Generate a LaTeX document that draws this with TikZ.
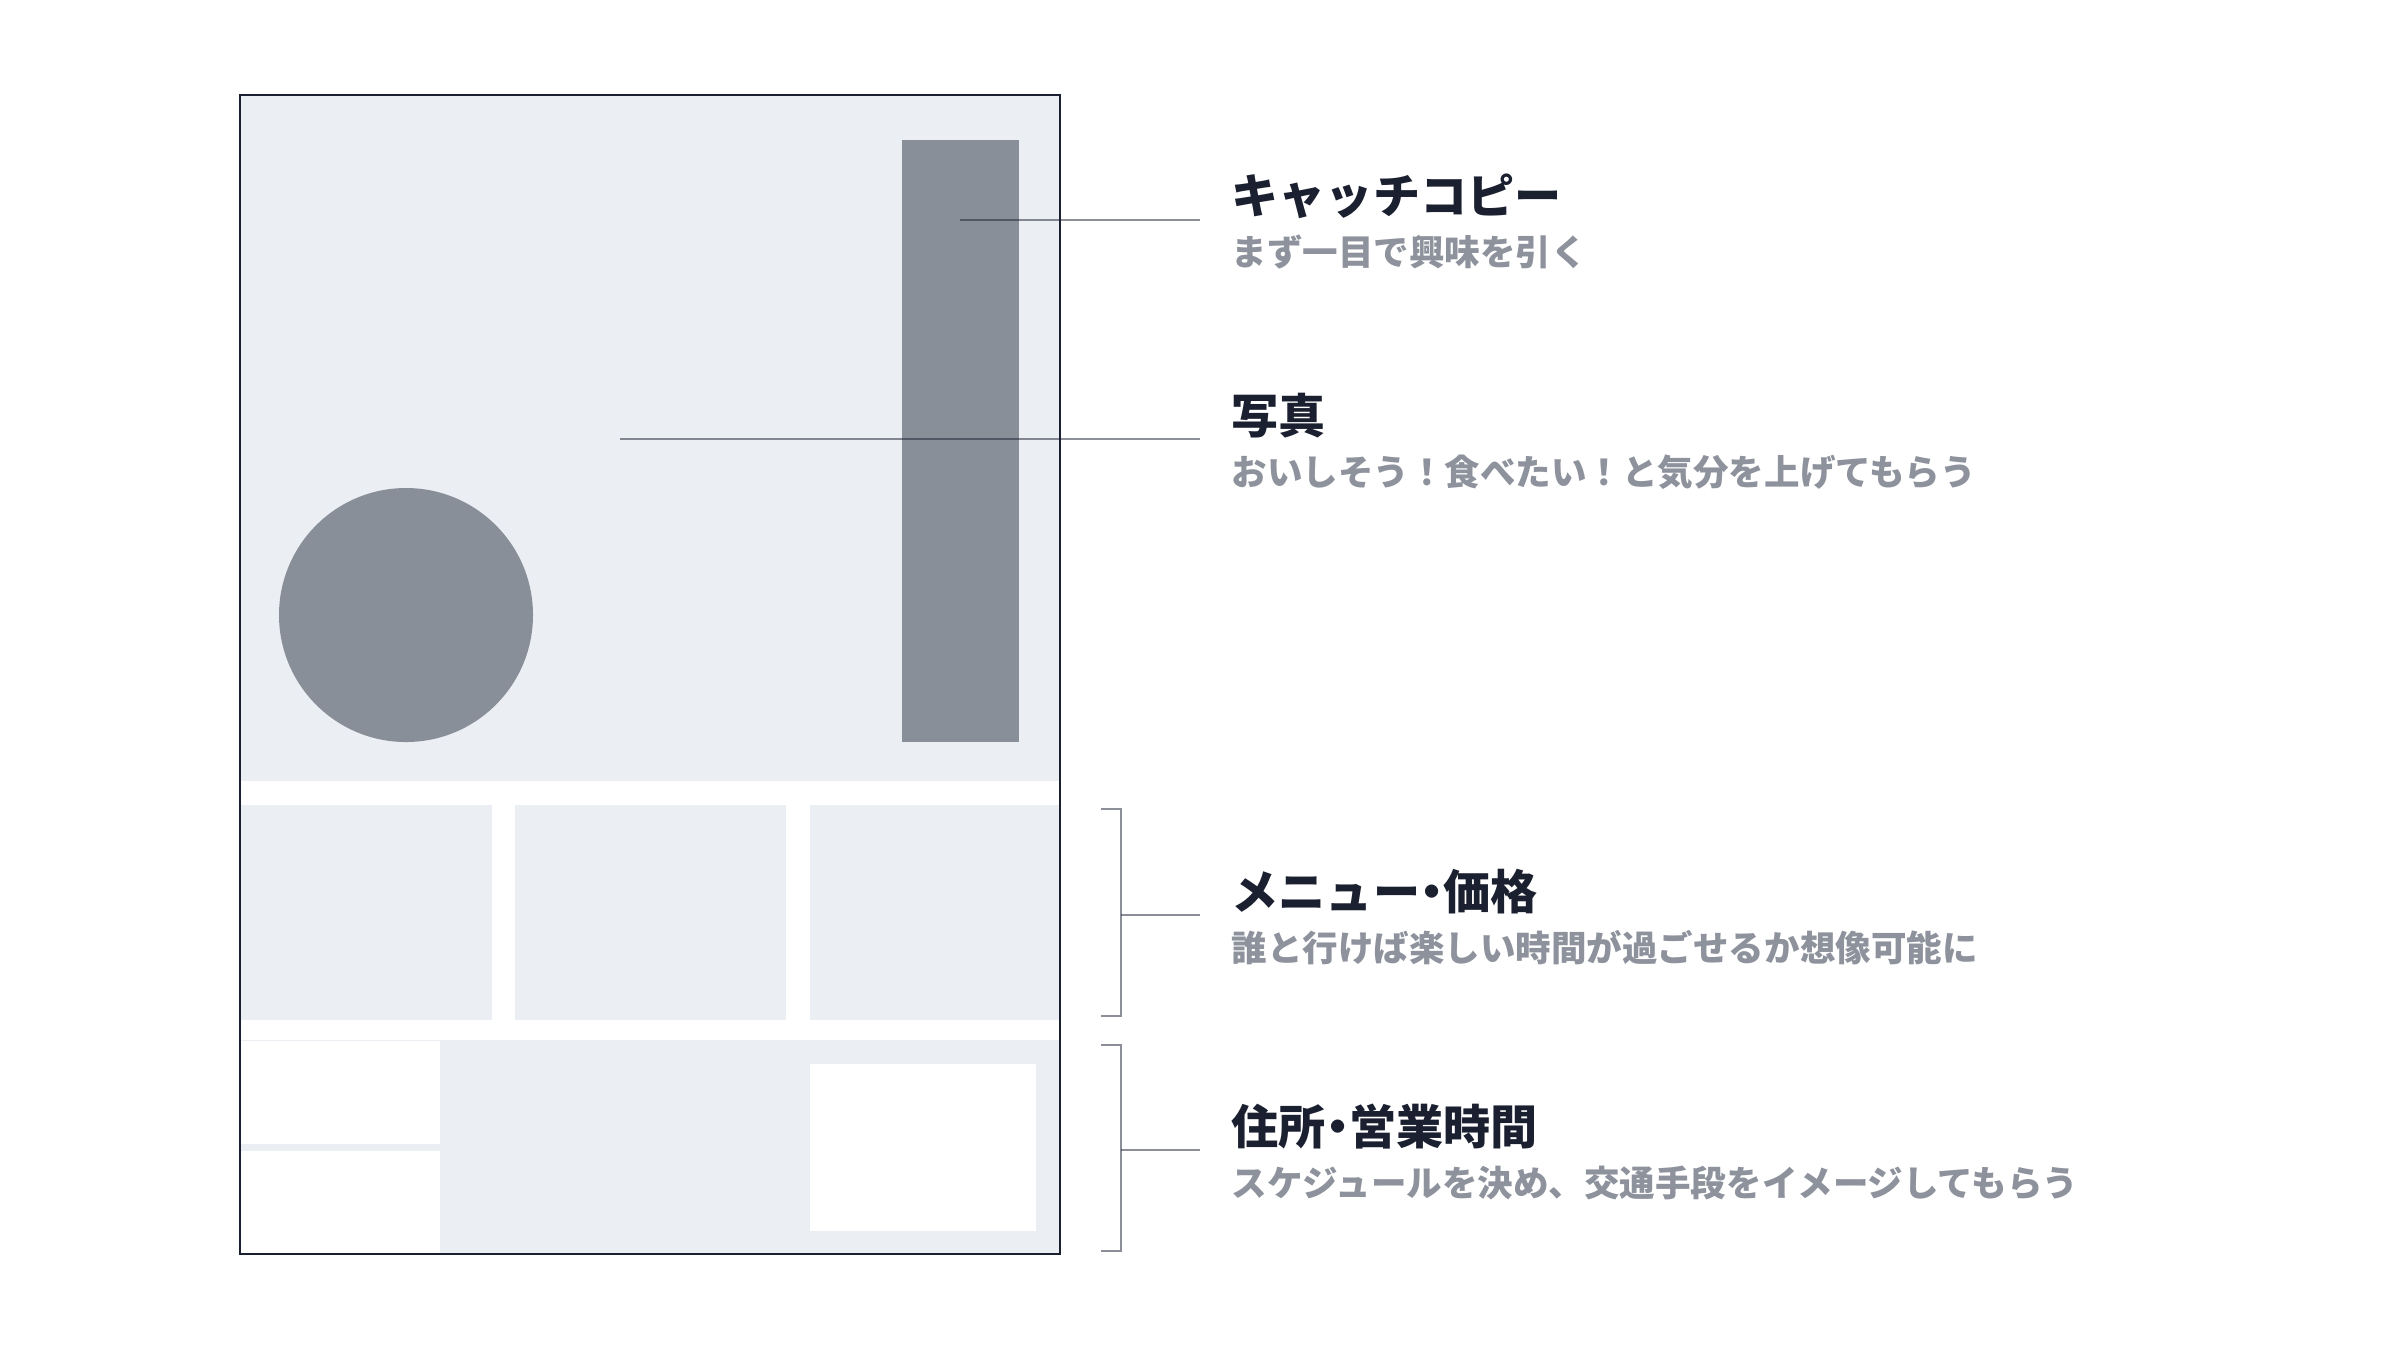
\documentclass[tikz,border=0pt]{standalone}
\usepackage{fontspec}
\newfontfamily\jpfont{Noto Sans CJK JP}
\usetikzlibrary{positioning, calc}

\definecolor{frameInk}{HTML}{1B2030}
\definecolor{paneFill}{HTML}{EBEEF2}
\definecolor{shapeFill}{HTML}{898F99}
\definecolor{subInk}{HTML}{8D929C}

% narrow middle dot, as in the headings
\newcommand{\middot}{\kern-0.25em・\kern-0.25em}

\begin{document}
\begin{tikzpicture}[x=0.01cm, y=-0.01cm,
    pane/.style={fill=paneFill},
    blank/.style={fill=white},
    solid shape/.style={fill=shapeFill},
    frame/.style={draw=frameInk, line width=0.02cm},
    leader/.style={draw=frameInk, draw opacity=0.5, line width=0.02cm},
    heading/.style={inner sep=0pt, anchor=base west, text=frameInk, font=\jpfont\bfseries\fontsize{13.4}{16}\selectfont},
    note/.style={inner sep=0pt, anchor=base west, text=subInk, font=\jpfont\bfseries\fontsize{10.1}{12}\selectfont}
  ]

  % page size and background
  \useasboundingbox (0,0) rectangle (2401,1350);
  \fill[white] (0,0) rectangle (2401,1350);

  % photo area with catch copy and dish
  \fill[pane] (240,95) rectangle (1060,781);
  \fill[solid shape] (902,140) rectangle (1019,742);
  \fill[solid shape] (406,615) circle[radius=127];

  % menu cards
  \fill[pane] (240,805) rectangle (492,1020);
  \fill[pane] (515,805) rectangle (786,1020);
  \fill[pane] (810,805) rectangle (1060,1020);

  % access block
  \fill[pane] (240,1040) rectangle (1060,1254);
  \fill[blank] (240,1041) rectangle (440,1144);
  \fill[blank] (240,1151) rectangle (440,1254);
  \fill[blank] (810,1064) rectangle (1036,1231);

  % page outline
  \draw[frame] (240,95) rectangle (1060,1254);

  % points that the labels refer to
  \coordinate (copy-pt) at (960,220);
  \coordinate (photo-pt) at (620,439);
  \coordinate (menu-top) at (1101,809);
  \coordinate (menu-bot) at (1101,1016);
  \coordinate (menu-pt) at (1121,915);
  \coordinate (access-top) at (1101,1045);
  \coordinate (access-bot) at (1101,1251);
  \coordinate (access-pt) at (1121,1150);

  % headings and notes
  \node[heading] (copy) at (1231,213) {キャッチコピー};
  \node[note, below=0.52cm of copy.base west, anchor=base west] (copy-note) {まず一目で興味を引く};

  \node[heading] (photo) at (1231,433) {写真};
  \node[note, below=0.52cm of photo.base west, anchor=base west] (photo-note) {おいしそう！食べたい！と気分を上げてもらう};

  \node[heading] (menu) at (1231,909) {メニュー\middot 価格};
  \node[note, below=0.52cm of menu.base west, anchor=base west] (menu-note) {誰と行けば楽しい時間が過ごせるか想像可能に};

  \node[heading] (access) at (1231,1144) {住所\middot 営業時間};
  \node[note, below=0.52cm of access.base west, anchor=base west] (access-note) {スケジュールを決め、交通手段をイメージしてもらう};

  % leader lines
  \draw[leader] (copy-pt) -- ([xshift=-0.31cm]copy-pt -| copy.west);
  \draw[leader] (photo-pt) -- ([xshift=-0.31cm]photo-pt -| photo.west);

  \draw[leader] (menu-top) -- ++(20,0) |- (menu-bot);
  \draw[leader] (menu-pt) -- ([xshift=-0.31cm]menu-pt -| menu.west);

  \draw[leader] (access-top) -- ++(20,0) |- (access-bot);
  \draw[leader] (access-pt) -- ([xshift=-0.31cm]access-pt -| access.west);

\end{tikzpicture}
\end{document}
